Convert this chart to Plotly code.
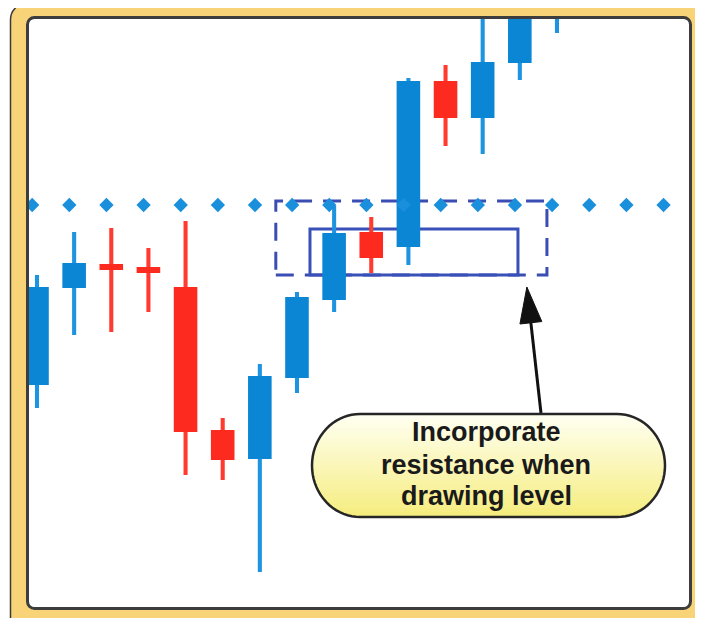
import math

import plotly.graph_objects as go

# ---------- 数据 ----------
candle_idx = list(range(15))
open_ = [233, 330, 354, 351, 331, 188, 159, 240, 318, 386, 371, 537, 500, 555, 623]
high = [343, 386, 390, 370, 397, 200, 254, 326, 412, 401, 540, 553, 608, 648, 678]
low = [210, 283, 286, 306, 143, 138, 46, 225, 306, 345, 353, 472, 464, 538, 585]
close = [331, 355, 348, 345, 186, 158, 242, 321, 385, 360, 537, 500, 556, 628, 658]

level = 413
dot_x = [-0.13, 0.87, 1.87, 2.87, 3.87, 4.87, 5.87, 6.87, 7.87, 8.87,
         9.87, 10.87, 11.87, 12.87, 13.87, 14.87, 15.87, 16.87]

zone_outer = (6.43, 13.73, 343, 417)   # x0, x1, y0, y1
zone_inner = (7.35, 12.95, 343, 389)
arrow_tip = (13.19, 331)
arrow_tail = (13.57, 205)

label_lines = ["Incorporate", "resistance when", "drawing level"]

BLUE, BLUE_W = "#0a86d4", "#1e94e0"
RED, RED_W = "#fd2a20", "#ff3b30"

# ---------- 像素 <-> paper ----------
# 页面 body 自带 8px 边距，图放在 (8, 8) 处
PAGE_W, PAGE_H, OFF = 703, 618, 8
FW, FH = PAGE_W - OFF, PAGE_H - OFF
L, R, T, B = 28, 690, 18, 608          # 绘图区（页面像素）
PW, PH = R - L, B - T
X_RANGE = [(L - 37) / 37.14, (R - 37) / 37.14]
Y_RANGE = [PAGE_H - B, PAGE_H - T]


def px(x):
    return (x - L) / PW


def py(y):
    return (B - y) / PH


def d2px(x, y):
    return 37 + 37.14 * x, PAGE_H - y


def rrect_path(x0, y0, x1, y1, rx, ry):
    k = 0.5523
    pts = [
        ("M", [(x0 + rx, y0)]),
        ("L", [(x1 - rx, y0)]),
        ("C", [(x1 - rx + k * rx, y0), (x1, y0 + ry - k * ry), (x1, y0 + ry)]),
        ("L", [(x1, y1 - ry)]),
        ("C", [(x1, y1 - ry + k * ry), (x1 - rx + k * rx, y1), (x1 - rx, y1)]),
        ("L", [(x0 + rx, y1)]),
        ("C", [(x0 + rx - k * rx, y1), (x0, y1 - ry + k * ry), (x0, y1 - ry)]),
        ("L", [(x0, y0 + ry)]),
        ("C", [(x0, y0 + ry - k * ry), (x0 + rx - k * rx, y0), (x0 + rx, y0)]),
    ]
    s = ""
    for cmd, ps in pts:
        s += cmd + " ".join(f"{px(a):.5f},{py(b):.5f}" for a, b in ps) + " "
    return s + "Z"


def poly_path(pts):
    return "M" + " L".join(f"{px(a):.5f},{py(b):.5f}" for a, b in pts) + " Z"


def pill_points(x0, y0, x1, y1, rx, ry, n=18):
    out = []
    for cx, cy, a0 in [(x1 - rx, y0 + ry, -90), (x1 - rx, y1 - ry, 0),
                       (x0 + rx, y1 - ry, 90), (x0 + rx, y0 + ry, 180)]:
        for i in range(n + 1):
            a = math.radians(a0 + 90 * i / n)
            out.append((cx + rx * math.cos(a), cy + ry * math.sin(a)))
    return out


def clip_below(pts, yc):
    out = []
    for i in range(len(pts)):
        p, q = pts[i], pts[(i + 1) % len(pts)]
        pin, qin = p[1] >= yc, q[1] >= yc
        if pin:
            out.append(p)
        if pin != qin:
            t = (yc - p[1]) / (q[1] - p[1])
            out.append((p[0] + t * (q[0] - p[0]), yc))
    return out


# ---------- 蜡烛 ----------
up = [c >= o for o, c in zip(open_, close)]
body_base = [min(o, c) for o, c in zip(open_, close)]
body_len = [abs(c - o) for o, c in zip(open_, close)]
wick_len = [h - l for h, l in zip(high, low)]

fig = go.Figure()
fig.add_trace(go.Scatter(x=dot_x, y=[level] * len(dot_x), mode="markers",
                         marker=dict(symbol="diamond", size=11, color="#1a8fdc"),
                         hoverinfo="skip"))
fig.add_trace(go.Bar(x=candle_idx, y=wick_len, base=low, width=0.11,
                     marker=dict(color=[BLUE_W if u else RED_W for u in up], line_width=0)))
fig.add_trace(go.Bar(x=candle_idx, y=body_len, base=body_base, width=0.635,
                     marker=dict(color=[BLUE if u else RED for u in up], line_width=0)))

shapes = []
# 金色边框、白色面板
shapes.append(dict(type="path", xref="paper", yref="paper", layer="below",
                   path=rrect_path(10.5, 3.5, 701, 660, 16, 16),
                   fillcolor="#f8d377", line=dict(color="#3a3a3a", width=1.5)))
shapes.append(dict(type="path", xref="paper", yref="paper", layer="below",
                   path=rrect_path(L - 1, T - 1, R + 1, B + 1, 7, 7),
                   fillcolor="white", line_width=0))
# 阻力区
x0, x1, y0, y1 = zone_outer
shapes.append(dict(type="rect", layer="below", x0=x0, x1=x1, y0=y0, y1=y1,
                   line=dict(color="#3a4db2", width=3, dash="18px,11px")))
x0, x1, y0, y1 = zone_inner
shapes.append(dict(type="rect", layer="below", x0=x0, x1=x1, y0=y0, y1=y1,
                   line=dict(color="#3850b8", width=3)))
# 面板边线
shapes.append(dict(type="path", xref="paper", yref="paper", layer="above",
                   path=rrect_path(L - 0.5, T - 0.5, R + 0.5, B + 0.5, 7, 7),
                   line=dict(color="#3d3d3d", width=3)))

# 箭头
tx, ty = d2px(*arrow_tip)
bx, by = d2px(*arrow_tail)
ln = math.hypot(tx - bx, ty - by)
ux, uy = (tx - bx) / ln, (ty - by) / ln
hx, hy = tx - 36 * ux, ty - 36 * uy
shapes.append(dict(type="line", xref="paper", yref="paper", layer="above",
                   x0=px(bx), y0=py(by), x1=px(hx + 4 * ux), y1=py(hy + 4 * uy),
                   line=dict(color="#111111", width=3)))
shapes.append(dict(type="path", xref="paper", yref="paper", layer="above",
                   path=poly_path([(tx, ty), (hx - 11 * uy, hy + 11 * ux),
                                   (hx + 11 * uy, hy - 11 * ux)]),
                   fillcolor="#111111", line=dict(color="#111111", width=1)))

# 标注框（渐变）
cx0, cy0, cx1, cy1 = 312, 414, 665, 517
pill = pill_points(cx0, cy0, cx1, cy1, 48, (cy1 - cy0) / 2)
top_c, bot_c = (255, 255, 240), (246, 237, 128)
nb = 22
for i in range(nb):
    t = i / (nb - 1)
    col = "rgb({},{},{})".format(*[round(a + (b - a) * t) for a, b in zip(top_c, bot_c)])
    yc = cy0 + (cy1 - cy0) * i / nb
    shapes.append(dict(type="path", xref="paper", yref="paper", layer="above",
                       path=poly_path(clip_below(pill, yc)),
                       fillcolor=col, line_width=0))
shapes.append(dict(type="path", xref="paper", yref="paper", layer="above",
                   path=poly_path(pill), line=dict(color="#262626", width=2.5)))

annotations = []
for text, yy in zip(label_lines, [432, 465, 496]):
    annotations.append(dict(xref="paper", yref="paper", x=px(486), y=py(yy),
                            text=text, showarrow=False, xanchor="center", yanchor="middle",
                            font=dict(family="Arial, Liberation Sans, sans-serif",
                                      size=27, color="#1a1a1a", weight="bold")))

fig.update_layout(
    width=FW, height=FH,
    margin=dict(l=L - OFF, r=PAGE_W - R, t=T - OFF, b=PAGE_H - B, pad=0),
    paper_bgcolor="white", plot_bgcolor="white",
    showlegend=False, barmode="overlay",
    xaxis=dict(range=X_RANGE, visible=False, fixedrange=True),
    yaxis=dict(range=Y_RANGE, visible=False, fixedrange=True),
    shapes=shapes, annotations=annotations,
)
fig.write_html("out.html")
